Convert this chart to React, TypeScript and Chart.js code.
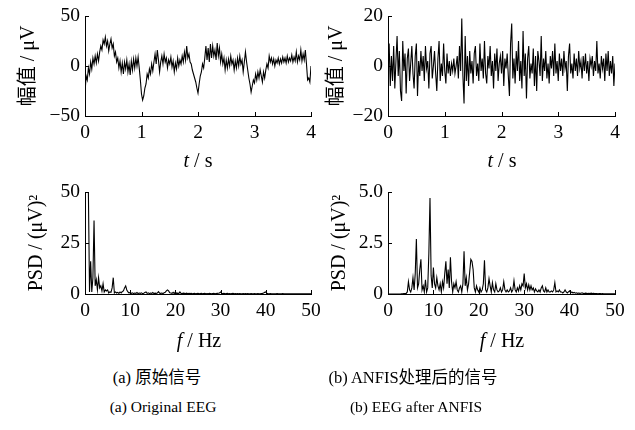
import React, { useEffect, useRef } from "react";
import { Chart, registerables } from "chart.js";
Chart.register(...registerables);

const FONT = "'Liberation Serif', 'Noto Sans CJK SC', serif";

// sampling grids
const timeStep = 0.02; // s between samples
const freqStep = 0.25; // Hz between PSD bins

const timeTickValues = [0, 1, 2, 3, 4];
const freqTickValues = [0, 10, 20, 30, 40, 50];

// (a) original EEG, µV, t = 0 … 4 s
const originalEEG = [
  -27, -10, -14, -2, -8, 4, -3, 8, 2, 10,
  3, 12, 5, 14, 20, 16, 26, 22, 29, 20,
  25, 15, 22, 27, 18, 22, 10, 14, 4, 8,
  -2, 5, -6, 3, -8, 4, -3, 6, -6, 2,
  -9, 5, -4, 7, -2, 8, 0, 9, -2, -14,
  -28, -34, -30, -22, -18, -8, -12, -3, -8, 2,
  -5, 4, 12, 2, 16, 6, -6, 4, 10, 2,
  12, 4, 8, -2, 6, 2, 9, -1, 5, -6,
  3, -3, 8, 0, 6, 2, 10, 4, 14, 6,
  20, 8, 12, 4, 2, -4, -8, -12, -16, -22,
  -27, -18, -10, -6, 2, -2, 8, 20, 6, 18,
  4, 22, 8, 20, 10, 16, 6, 23, 10, 18,
  4, 12, 2, 8, -4, 6, -2, 7, 0, 10,
  2, 6, -4, 5, -2, 8, 0, 10, 2, 6,
  -6, 4, 14, 4, -4, -12, -18, -26, -20, -14,
  -17, -8, -14, -6, -12, -4, -10, -16, -6, -12,
  -4, 2, -2, 10, 4, 8, 2, 7, 0, 6,
  3, 8, 2, 7, 3, 9, 4, 8, 3, 10,
  4, 8, 5, 11, 4, 9, 5, 14, 4, 10,
  6, 16, 5, 12, 6, 16, 2, -14, -12, -16,
  0,
];

// (b) EEG after ANFIS, µV, t = 0 … 4 s
const anfisEEG = [
  0, 9, -8, 4, -6, 8, -9, 2, 12, -4,
  6, -10, -14, 10, -2, 5, -11, 3, 7, -6,
  1, 8, -3, -9, 4, 9, -12, 2, -4, 6,
  -2, 4, -6, 8, -1, 2, -9, 5, 8, -5,
  0, 6, -3, -10, 3, 10, -6, 1, -4, 9,
  -2, -7, 5, -3, 2, -4, 1, -2, 3, -3,
  0, 4, -5, 8, -2, 19, -4, -15, 12, -6,
  4, -8, 6, -3, 2, -7, 5, 8, -4, 1,
  -6, 9, -2, 3, -5, 10, -3, -7, 4, -1,
  8, -4, 2, -9, 5, -2, 7, -6, 1, 4,
  -3, 6, -8, 3, -1, 5, -4, -12, 9, 17,
  -5, 3, -7, 6, -2, 10, -6, 2, -9, 14,
  -4, 5, -13, 3, 8, -5, 1, -3, 7, -8,
  4, -10, 6, 2, -4, 12, -6, 3, -2, 6,
  -5, 1, -7, 4, -1, 6, -4, 9, -3, 2,
  -6, 5, -2, 3, -4, 6, -1, 2, -10, 4,
  9, -3, 1, -5, 5, -2, 3, -4, 6, -1,
  2, -5, 4, -2, 5, -3, 2, -6, 3, 0,
  4, -4, 2, -2, 10, -3, 1, -5, 4, -1,
  3, -6, 5, -2, 6, -4, 2, -3, 4, -8,
  1,
];

// PSD of (a), (µV)², f = 0 … 50 Hz
const originalPSD = [
  50, 50, 50, 50, 1, 16, 1, 8,
  36, 4, 7, 2, 8, 3, 4, 1.5,
  5, 1, 2, 1.5, 2, 0.5, 1, 0.8,
  3, 8, 0.5, 1, 0.5, 0.8, 0.3, 1,
  0.5, 1.2, 1.5, 3, 4, 2, 1, 0.5,
  0.8, 0.3, 0.6, 0.2, 0.5, 0.3, 0.7, 0.2,
  0.5, 0.3, 0.6, 0.2, 0.4, 0.8, 1, 0.3,
  0.6, 0.2, 0.5, 0.3, 0.7, 0.2, 0.4, 0.3,
  0.5, 1.2, 0.4, 0.3, 0.5, 0.2, 0.6, 0.8,
  1.5, 2, 1.5, 0.6, 0.5, 0.3, 0.8, 0.2,
  1, 0.3, 0.4, 0.2, 1, 0.3, 0.2, 0.4,
  0.3, 0.2, 0.4, 0.1, 0.3, 0.2, 0.3, 0.1,
  0.2, 0.3, 0.1, 0.2, 0.3, 0.1, 0.2, 0.3,
  0.1, 0.2, 0.3, 0.1, 0.2, 0.1, 0.3, 0.2,
  0.1, 0.2, 0.3, 0.1, 0.2, 0.3, 0.4, 0.5,
  1, 0.4, 0.2, 0.3, 0.1, 0.2, 0.3, 0.1,
  0.2, 0.1, 0.2, 0.3, 0.1, 0.2, 0.1, 0.2,
  0.1, 0.2, 0.1, 0.1, 0.2, 0.1, 0.2, 0.1,
  0.2, 0.1, 0.1, 0.2, 0.1, 0.1, 0.2, 0.1,
  0.1, 0.2, 0.1, 0.1, 0.2, 0.3, 0.5, 0.8,
  1, 0.3, 0.1, 0.1, 0.2, 0.1, 0.1, 0.1,
  0.1, 0.1, 0.2, 0.1, 0.1, 0.1, 0.1, 0.2,
  0.1, 0.1, 0.1, 0.1, 0.1, 0.1, 0.1, 0.1,
  0.1, 0.1, 0.1, 0.1, 0.1, 0.1, 0.1, 0.1,
  0.1, 0.1, 0.1, 0.1, 0.1, 0.1, 0.1, 0.1,
  0.1,
];

// PSD of (b), (µV)², f = 0 … 50 Hz
const anfisPSD = [
  0, 0, 0, 0, 0, 0, 0, 0,
  0, 0, 0, 0, 0.01, 0.01, 0.02, 0.02,
  0.03, 0.1, 0.6, 0.2, 0.1, 0.3, 0.8, 0.2,
  1.0, 2.7, 0.3, 0.5, 1.2, 1.7, 0.2, 0.4,
  0.1, 0.7, 0.1, 0.3, 2.0, 4.7, 0.9, 0.3,
  1.3, 0.5, 0.3, 0.8, 0.4, 0.2, 0.5, 0.1,
  0.6, 0.3, 1.0, 1.6, 0.5, 1.2, 0.3, 1.8,
  0.6, 0.1, 0.5, 0.3, 0.6, 0.2, 0.1, 0.3,
  0.4, 0.1, 0.5, 2.1, 0.4, 0.8, 0.2, 0.5,
  1.1, 1.7, 1.6, 1.2, 0.3, 0.1, 0.4, 0.2,
  0.1, 0.3, 0.1, 0.2, 0.5, 1.65, 0.2, 0.1,
  0.3, 0.75, 0.4, 0.1, 0.55, 0.2, 0.1, 0.5,
  0.2, 0.1, 0.15, 0.3, 0.1, 0.2, 0.6, 0.2,
  0.1, 0.2, 0.1, 0.15, 0.3, 0.1, 0.2, 0.65,
  0.2, 0.1, 0.3, 0.15, 0.4, 0.2, 0.5, 0.4,
  1.0, 0.3, 0.5, 0.2, 0.45, 0.2, 0.4, 0.2,
  0.3, 0.1, 0.25, 0.15, 0.1, 0.2, 0.1, 0.3,
  0.4, 0.15, 0.1, 0.3, 0.1, 0.2, 0.1, 0.1,
  0.15, 0.1, 0.2, 0.55, 0.1, 0.15, 0.1, 0.2,
  0.1, 0.1, 0.05, 0.1, 0.2, 0.1, 0.05, 0.1,
  0.15, 0.05, 0.1, 0.05, 0.08, 0.04, 0.06, 0.03,
  0.05, 0.03, 0.04, 0.06, 0.03, 0.02, 0.04, 0.03,
  0.02, 0.03, 0.02, 0.04, 0.02, 0.03, 0.02, 0.02,
  0.02, 0.01, 0.02, 0.02, 0.01, 0.02, 0.01, 0.01,
  0.01, 0.01, 0.01, 0.01, 0.01, 0.01, 0.01, 0.01,
  0.01,
];

const ampTitle = "幅值 / μV";
const psdTitle = "PSD / (μV)²";

const inwardTicks = {
  id: "inwardTicks",
  afterDatasetsDraw(chart: any) {
    const { ctx, chartArea, scales } = chart;
    const xs = scales.x;
    const ys = scales.y;
    ctx.save();
    ctx.strokeStyle = "#000";
    ctx.lineWidth = 1;
    ctx.beginPath();
    xs.ticks.forEach((t: any) => {
      const px = Math.round(xs.getPixelForValue(t.value)) + 0.5;
      ctx.moveTo(px, chartArea.bottom);
      ctx.lineTo(px, chartArea.bottom - 4);
    });
    ys.ticks.forEach((t: any) => {
      const py = Math.round(ys.getPixelForValue(t.value)) + 0.5;
      ctx.moveTo(chartArea.left, py);
      ctx.lineTo(chartArea.left + 4, py);
    });
    ctx.stroke();
    ctx.restore();
  },
};

type PanelProps = {
  box: { left: number; top: number; width: number; height: number };
  padTop: number;
  padRight: number;
  yWidth: number;
  xHeight: number;
  values: number[];
  step: number;
  xMax: number;
  xTickStep: number;
  yMin: number;
  yMax: number;
  yTickStep: number;
  yTitle: string;
  yTitlePad: number;
  fmt: (v: number) => string;
};

function Panel(p: PanelProps) {
  const ref = useRef<HTMLCanvasElement | null>(null);
  useEffect(() => {
    if (!ref.current) return;
    const pts = p.values.map((v, i) => ({ x: i * p.step, y: v }));
    const tickFont = { family: FONT, size: 19.5 };
    const chart = new Chart(ref.current, {
      type: "line",
      data: {
        datasets: [
          {
            data: pts,
            borderColor: "#000",
            borderWidth: 1.1,
            pointRadius: 0,
            tension: 0,
            fill: false,
          },
        ],
      },
      options: {
        animation: false,
        responsive: false,
        devicePixelRatio: 1,
        events: [],
        layout: { padding: { top: p.padTop, right: p.padRight, left: 0, bottom: 0 } },
        plugins: { legend: { display: false }, tooltip: { enabled: false } },
        scales: {
          x: {
            type: "linear",
            min: 0,
            max: p.xMax,
            grid: { display: false, drawTicks: false },
            border: { display: true, color: "#000", width: 1 },
            ticks: {
              stepSize: p.xTickStep,
              color: "#000",
              font: tickFont,
              padding: 5,
              maxRotation: 0,
              autoSkip: false,
            },
            afterFit: (s: any) => {
              s.height = p.xHeight;
              s.paddingLeft = 0;
              s.paddingRight = 0;
            },
          },
          y: {
            type: "linear",
            min: p.yMin,
            max: p.yMax,
            grid: { display: false, drawTicks: false },
            border: { display: true, color: "#000", width: 1 },
            ticks: {
              stepSize: p.yTickStep,
              color: "#000",
              font: tickFont,
              padding: 5,
              callback: (v: any) => p.fmt(Number(v)),
            },
            title: {
              display: true,
              text: p.yTitle,
              color: "#000",
              font: { family: FONT, size: 20 },
              padding: { top: p.yTitlePad, bottom: 0 },
            },
            afterFit: (s: any) => {
              s.width = p.yWidth;
              s.paddingTop = 0;
              s.paddingBottom = 0;
            },
          },
        },
      },
      plugins: [inwardTicks],
    } as any);
    return () => chart.destroy();
  }, []);
  return (
    <canvas
      ref={ref}
      width={p.box.width}
      height={p.box.height}
      style={{ position: "absolute", left: p.box.left, top: p.box.top, width: p.box.width, height: p.box.height }}
    />
  );
}

const minusFmt = (v: number) => String(v).replace("-", "−");
const psdBFmt = (v: number) => (v === 0 ? "0" : v.toFixed(1));

function Label(props: { x: number; y: number; size: number; children: React.ReactNode }) {
  return (
    <div
      style={{
        position: "absolute",
        left: props.x,
        top: props.y,
        transform: "translate(-50%, -50%)",
        whiteSpace: "nowrap",
        fontFamily: FONT,
        fontSize: props.size,
        color: "#000",
        lineHeight: 1,
      }}
    >
      {props.children}
    </div>
  );
}

export default function App() {
  return (
    <div
      style={{
        position: "absolute",
        left: 0,
        top: 0,
        width: 635,
        height: 430,
        background: "#fff",
        overflow: "hidden",
      }}
    >
      <Panel
        box={{ left: 0, top: 0, width: 320, height: 170 }}
        padTop={16}
        padRight={9}
        yWidth={85}
        xHeight={54}
        values={originalEEG}
        step={timeStep}
        xMax={timeTickValues[timeTickValues.length - 1]}
        xTickStep={1}
        yMin={-50}
        yMax={50}
        yTickStep={50}
        yTitle={ampTitle}
        yTitlePad={17}
        fmt={minusFmt}
      />
      <Panel
        box={{ left: 320, top: 0, width: 315, height: 170 }}
        padTop={16}
        padRight={20}
        yWidth={68}
        xHeight={54}
        values={anfisEEG}
        step={timeStep}
        xMax={timeTickValues[timeTickValues.length - 1]}
        xTickStep={1}
        yMin={-20}
        yMax={20}
        yTickStep={20}
        yTitle={ampTitle}
        yTitlePad={5}
        fmt={minusFmt}
      />
      <Panel
        box={{ left: 0, top: 170, width: 320, height: 180 }}
        padTop={22}
        padRight={9}
        yWidth={85}
        xHeight={56}
        values={originalPSD}
        step={freqStep}
        xMax={freqTickValues[freqTickValues.length - 1]}
        xTickStep={10}
        yMin={0}
        yMax={50}
        yTickStep={25}
        yTitle={psdTitle}
        yTitlePad={25}
        fmt={minusFmt}
      />
      <Panel
        box={{ left: 320, top: 170, width: 315, height: 180 }}
        padTop={22}
        padRight={20}
        yWidth={68}
        xHeight={56}
        values={anfisPSD}
        step={freqStep}
        xMax={freqTickValues[freqTickValues.length - 1]}
        xTickStep={10}
        yMin={0}
        yMax={5}
        yTickStep={2.5}
        yTitle={psdTitle}
        yTitlePad={8}
        fmt={psdBFmt}
      />
      <Label x={198} y={160} size={20}>
        <i>t</i> / s
      </Label>
      <Label x={502} y={160} size={20}>
        <i>t</i> / s
      </Label>
      <Label x={199} y={340} size={20}>
        <i>f</i> / Hz
      </Label>
      <Label x={502} y={340} size={20}>
        <i>f</i> / Hz
      </Label>
      <Label x={157} y={378} size={16.5}>
        (a) 原始信号
      </Label>
      <Label x={413} y={378} size={16.5}>
        (b) ANFIS处理后的信号
      </Label>
      <Label x={163} y={407} size={15.5}>
        (a) Original EEG
      </Label>
      <Label x={416} y={407} size={15.5}>
        (b) EEG after ANFIS
      </Label>
    </div>
  );
}
